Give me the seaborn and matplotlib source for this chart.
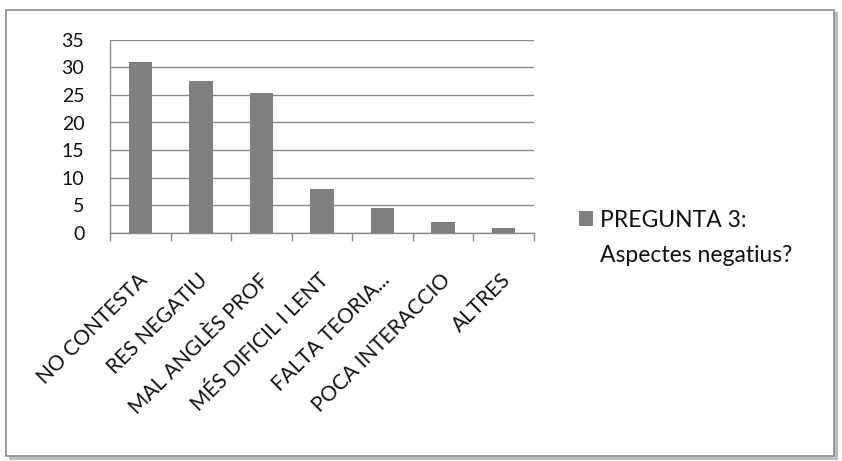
import matplotlib
matplotlib.use("Agg")
import matplotlib.pyplot as plt
import matplotlib.patches as mpatches
import matplotlib.transforms as mtransforms
import seaborn as sns
import pandas as pd

categories = ["NO CONTESTA", "RES NEGATIU", "MAL ANGLÈS PROF", "MÉS DIFICIL I LENT",
              "FALTA TEORIA...", "POCA INTERACCIO", "ALTRES"]
values = [31, 27.5, 25.3, 8, 4.4, 2, 0.9]
y_ticks = [0, 5, 10, 15, 20, 25, 30, 35]
series_title = "PREGUNTA 3:"
series_subtitle = "Aspectes negatius?"

sns.set_theme(style="white")
plt.rcParams["font.family"] = ["Lato", "DejaVu Sans"]

W, H = 842, 461
fig = plt.figure(figsize=(W / 100, H / 100), dpi=100)
fig.patch.set_facecolor("white")

# chart frame with a soft drop shadow
shadow = mpatches.Rectangle((9 / W, 1 - 460 / H), 829 / W, 448 / H,
                            transform=fig.transFigure, facecolor="#bdbdbd",
                            edgecolor="none", zorder=-2)
frame = mpatches.Rectangle((6 / W, 1 - 456 / H), 828 / W, 446 / H,
                           transform=fig.transFigure, facecolor="white",
                           edgecolor="#8c8c8c", linewidth=1.2, zorder=-1)
fig.patches.extend([shadow, frame])

ax = fig.add_axes([110 / W, 1 - 232.5 / H, (534 - 110) / W, (232.5 - 40) / H])
ax.set_facecolor("none")

df = pd.DataFrame({"cat": categories, "val": values})
sns.barplot(data=df, x="cat", y="val", color="#7f7f7f", saturation=1,
            width=0.385, ax=ax, zorder=3)
for p in ax.patches:
    p.set_edgecolor("none")

ax.set_ylim(0, 35)
ax.set_xlim(-0.5, len(categories) - 0.5)
ax.set_yticks(y_ticks)
ax.yaxis.grid(True, color="#8a8a8a", linewidth=1.0, zorder=0)
ax.set_xlabel("")
ax.set_ylabel("")

for side in ["top", "right"]:
    ax.spines[side].set_visible(False)
for side in ["left", "bottom"]:
    ax.spines[side].set_color("#8a8a8a")
    ax.spines[side].set_linewidth(1.0)

# category boundaries get the tick marks, labels sit at the bar centers
ax.set_xticks([i - 0.5 for i in range(len(categories) + 1)], minor=False)
ax.set_xticklabels([""] * (len(categories) + 1))
ax.tick_params(axis="x", which="major", direction="out", length=6, width=1,
               color="#8a8a8a", bottom=True)
ax.set_xticks(range(len(categories)), minor=True)
ax.set_xticklabels(categories, minor=True, rotation=45, ha="right", va="top",
                   rotation_mode="anchor", fontsize=15, color="#111111")
ax.tick_params(axis="x", which="minor", length=0, pad=27)
shift = mtransforms.ScaledTranslation(-3 / 100, 0, fig.dpi_scale_trans)
for lbl in ax.get_xticklabels(minor=True):
    lbl.set_transform(lbl.get_transform() + shift)
ax.tick_params(axis="y", left=False, length=0, labelsize=14,
               labelcolor="#111111", pad=18.5)

handle = mpatches.Patch(facecolor="#7f7f7f", edgecolor="none")
blank = mpatches.Patch(facecolor="none", edgecolor="none")
fig.legend([handle, blank], [series_title, series_subtitle], loc="upper left",
           bbox_to_anchor=(574 / W, 1 - 205 / H), frameon=False,
           fontsize=16.5, handlelength=0.65, handleheight=0.65,
           handletextpad=0.3, labelspacing=0.62, labelcolor="#111111",
           borderaxespad=0, borderpad=0.2)

fig.savefig("out.png", dpi=100)
